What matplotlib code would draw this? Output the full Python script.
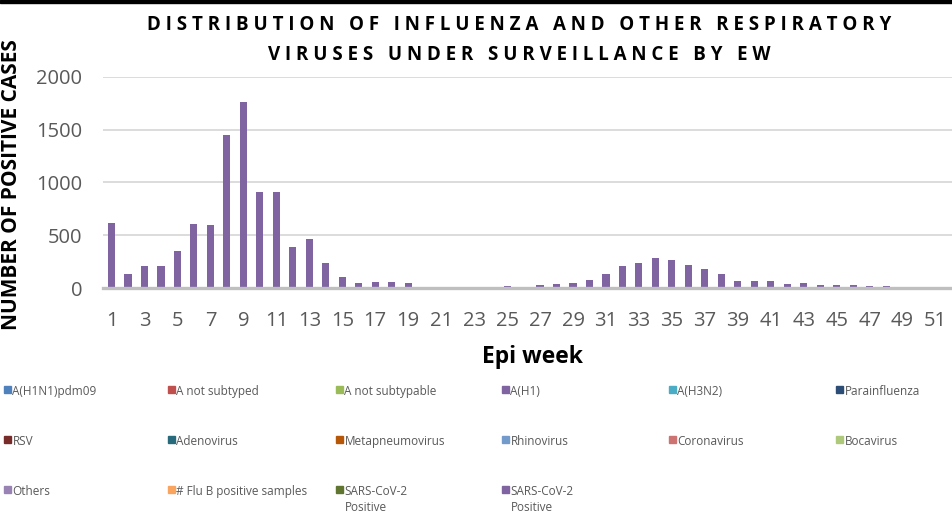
import matplotlib
matplotlib.use("Agg")
import matplotlib.pyplot as plt
from matplotlib.patches import Rectangle
import numpy as np

plt.rcParams['font.family'] = ['Open Sans', 'DejaVu Sans']

# ---- data ----
weeks = list(range(1, 53))
week_tick_labels = [str(w) for w in range(1, 53, 2)]

series_names = ["A(H1N1)pdm09", "A not subtyped", "A not subtypable", "A(H1)", "A(H3N2)",
                "Parainfluenza", "RSV", "Adenovirus", "Metapneumovirus", "Rhinovirus",
                "Coronavirus", "Bocavirus", "Others", "# Flu B positive samples",
                "SARS-CoV-2\nPositive", "SARS-CoV-2\nPositive"]
series_colors = ["#4F81BD", "#C0504D", "#9BBB59", "#8064A2", "#4BACC6",
                 "#2C4D75", "#772C2A", "#276A7C", "#B65708", "#729ACA",
                 "#CD7371", "#AFC97A", "#9983B5", "#F9A55F",
                 "#5F7530", "#8064A2"]

zeros = [0] * 52
sars_cov2_positive = [614, 135, 214, 211, 350, 608, 601, 1452, 1762, 913,
                      907, 390, 466, 236, 110, 53, 62, 57, 53, 0,
                      15, 0, 0, 0, 20, 0, 31, 38, 53, 78,
                      138, 208, 239, 286, 267, 223, 182, 138, 72, 69,
                      66, 43, 47, 34, 34, 34, 22, 22, 0, 0,
                      0, 0]
series_values = [zeros] * 15 + [sars_cov2_positive]

# ---- figure ----
W, H = 953, 511
fig = plt.figure(figsize=(W / 100, H / 100), dpi=100)

def fx(px):
    return px / W

def fy(py):
    return 1 - py / H

# top black band
fig.patches.append(Rectangle((0, fy(3)), 1, 3 / H, transform=fig.transFigure,
                             color="black", zorder=10))

left_px, right_px = 103.3, 960.3
top_px, bot_px = 76.7, 288.3
ax = fig.add_axes([fx(left_px), fy(bot_px), fx(right_px - left_px), (bot_px - top_px) / H])

x = np.array(weeks)
bottom = np.zeros(len(weeks))
for name, color, vals in zip(series_names, series_colors, series_values):
    v = np.array(vals, dtype=float)
    ax.bar(x, v, width=0.43, bottom=bottom, color=color, zorder=3)
    bottom += v

ax.set_xlim(0.5, 52.5)
ax.set_ylim(0, 2000)
ax.set_yticks([0, 500, 1000, 1500, 2000])
ax.set_xticks(list(range(1, 53, 2)))
ax.set_xticklabels(week_tick_labels)
ax.grid(axis='y', color="#D9D9D9", linewidth=1.3, zorder=0)
ax.set_axisbelow(True)
for s in ['top', 'right', 'left']:
    ax.spines[s].set_visible(False)
ax.spines['bottom'].set_color("#BFBFBF")
ax.spines['bottom'].set_linewidth(2.4)
ax.spines['bottom'].set_zorder(4)
ax.tick_params(axis='both', length=0, labelsize=14.5, labelcolor="#595959")
ax.tick_params(axis='x', pad=16)
ax.tick_params(axis='y', pad=15)

# titles
fig.text(fx(519.5), fy(25),
         "D I S T R I B U T I O N   O F   I N F L U E N Z A   A N D   O T H E R   R E S P I R A T O R Y",
         ha='center', va='center', fontsize=13.5, fontweight='bold', color="#000000")
fig.text(fx(519), fy(55),
         "V I R U S E S   U N D E R   S U R V E I L L A N C E   B Y   E W",
         ha='center', va='center', fontsize=13.5, fontweight='bold', color="#000000")

fig.text(fx(12), fy(185), "NUMBER OF POSITIVE CASES", rotation=90, ha='center', va='center',
         fontsize=15, fontweight='bold', color="#000000")
fig.text(fx(533), fy(357), "Epi week", ha='center', va='center',
         fontsize=16.5, fontweight='bold', color="#000000")

# legend (manual grid)
col_x = [4, 168, 336, 502, 669, 836]
row_y = [389, 439, 489]
for i, (name, color) in enumerate(zip(series_names, series_colors)):
    r, c = divmod(i, 6)
    sx, sy = col_x[c], row_y[r]
    fig.patches.append(Rectangle((fx(sx), fy(sy + 3.5)), 7 / W, 7 / H,
                                 transform=fig.transFigure, color=color))
    fig.text(fx(sx + 8.5), fy(sy - 4.5), name, ha='left', va='top', fontsize=8.5,
             color="#595959", linespacing=1.3)

fig.savefig("out.png", dpi=100)
